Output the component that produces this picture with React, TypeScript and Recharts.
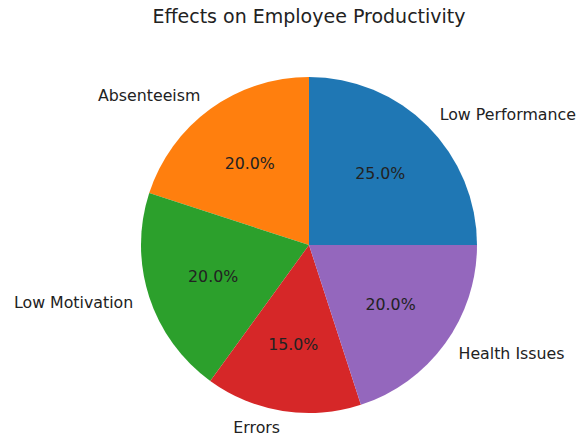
import { PieChart, Pie, Cell } from "recharts";

// --- Data ---
const categories = ["Low Performance", "Absenteeism", "Low Motivation", "Errors", "Health Issues"];
const shares = [25, 20, 20, 15, 20];
const colors = ["#1f77b4", "#ff7f0e", "#2ca02c", "#d62728", "#9467bd"];

const data = categories.map((name, i) => ({ name, value: shares[i] }));

const RAD = Math.PI / 180;

// matplotlib style: name at 1.1r, percentage at 0.6r
const renderLabel = (props: any) => {
  const { cx, cy, midAngle, outerRadius, percent, name } = props;
  const cos = Math.cos(-midAngle * RAD);
  const sin = Math.sin(-midAngle * RAD);
  const nx = cx + outerRadius * 1.1 * cos;
  const ny = cy + outerRadius * 1.1 * sin;
  const px = cx + outerRadius * 0.6 * cos;
  const py = cy + outerRadius * 0.6 * sin;
  return (
    <g>
      <text
        x={nx}
        y={ny}
        textAnchor={cos > 0 ? "start" : "end"}
        dominantBaseline="central"
        fontSize={15.8}
        fill="#222"
      >
        {name}
      </text>
      <text
        x={px}
        y={py}
        textAnchor="middle"
        dominantBaseline="central"
        fontSize={15.8}
        fill="#222"
      >
        {`${((percent ?? 0) * 100).toFixed(1)}%`}
      </text>
    </g>
  );
};

export default function App() {
  return (
    <div style={{ position: "absolute", left: 0, top: 0, width: 587, height: 439, background: "#fff", fontFamily: "'DejaVu Sans', sans-serif" }}>
      <div style={{ position: "absolute", left: 0, top: 5, width: 618, textAlign: "center", fontSize: 19, color: "#222" }}>
        Effects on Employee Productivity
      </div>
      <PieChart
        width={587}
        height={439}
        margin={{ top: 0, right: 0, bottom: 0, left: 0 }}
        style={{ position: "absolute", left: 0, top: 0 }}
      >
        <Pie
          data={data}
          dataKey="value"
          nameKey="name"
          cx={309}
          cy={245}
          outerRadius={168}
          startAngle={0}
          endAngle={360}
          stroke="none"
          label={renderLabel}
          labelLine={false}
          isAnimationActive={false}
        >
          {data.map((d, i) => (
            <Cell key={d.name} fill={colors[i]} />
          ))}
        </Pie>
      </PieChart>
    </div>
  );
}
